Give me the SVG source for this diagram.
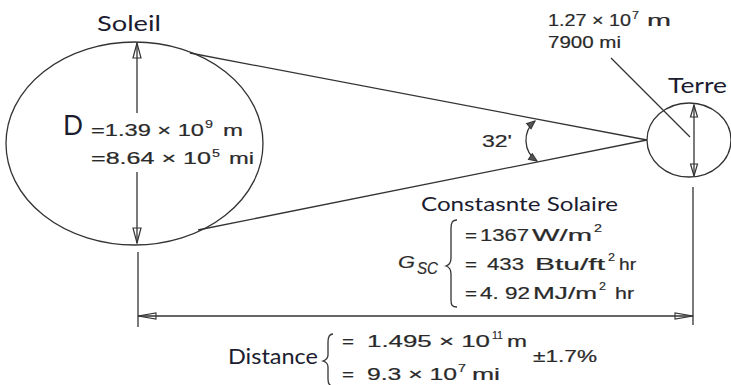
<svg xmlns="http://www.w3.org/2000/svg" width="731" height="385" viewBox="0 0 731 385">
<style>
.ln{fill:none;stroke:#333;stroke-width:1.3}
.t{font-family:"Liberation Sans",Arial,sans-serif;font-size:16px;fill:#2a2a2a;stroke:#2a2a2a;stroke-width:0.2}
.s{font-family:"Liberation Sans",Arial,sans-serif;font-size:11px;fill:#2a2a2a;stroke:#2a2a2a;stroke-width:0.15}
.i{font-style:italic}
.lbl{font-family:Lato,"Open Sans",sans-serif;fill:#1c1c30}
</style>
<defs>
<marker id="ah" viewBox="-17 -6 18 12" refX="0" refY="0" markerWidth="18" markerHeight="12" orient="auto-start-reverse" markerUnits="userSpaceOnUse">
<path d="M0,0 L-15,-4 L-15,4 Z" fill="none" stroke="#333" stroke-width="1.2"/>
</marker>
<marker id="ahs" viewBox="-14 -5 15 10" refX="0" refY="0" markerWidth="15" markerHeight="10" orient="auto-start-reverse" markerUnits="userSpaceOnUse">
<path d="M0,0 L-12,-3.5 L-12,3.5 Z" fill="none" stroke="#333" stroke-width="1.2"/>
</marker>
<marker id="ahd" viewBox="-20 -5 21 10" refX="0" refY="0" markerWidth="21" markerHeight="10" orient="auto-start-reverse" markerUnits="userSpaceOnUse">
<path d="M0,0 L-18,-3 L-18,3 Z" fill="none" stroke="#333" stroke-width="1.1"/>
</marker>
<marker id="aha" viewBox="-10 -5 11 10" refX="0" refY="0" markerWidth="11" markerHeight="10" orient="auto-start-reverse" markerUnits="userSpaceOnUse">
<path d="M0,0 L-8,-3.5 L-8,3.5 Z" fill="#555" stroke="#333" stroke-width="1"/>
</marker>
</defs>
<rect width="731" height="385" fill="#fff"/>

<g id="connectors">
<line class="ln" x1="190" y1="53" x2="647" y2="140"/>
<line class="ln" x1="198" y1="230" x2="647" y2="140"/>
<line class="ln" x1="138" y1="252" x2="138" y2="327"/>
<line class="ln" x1="693" y1="187" x2="693" y2="325"/>
<line class="ln" x1="138" y1="316" x2="693" y2="316" marker-start="url(#ahd)" marker-end="url(#ahd)"/>
</g>

<g id="sun">
<ellipse class="ln" cx="134.5" cy="143.5" rx="128.5" ry="101.5"/>
<text class="lbl" x="97" y="31" font-size="22" textLength="64" lengthAdjust="spacingAndGlyphs">Soleil</text>
<line class="ln" x1="137" y1="113" x2="137" y2="43" marker-end="url(#ah)"/>
<line class="ln" x1="137" y1="172" x2="137" y2="243" marker-end="url(#ah)"/>
<text class="lbl" x="63" y="135" font-size="27" textLength="20" lengthAdjust="spacingAndGlyphs">D</text>
<text class="t" x="91" y="136" textLength="113" lengthAdjust="spacingAndGlyphs">=1.39 × 10</text>
<text class="s" x="205" y="128" textLength="8" lengthAdjust="spacingAndGlyphs">9</text>
<text class="t" x="223" y="136" textLength="20" lengthAdjust="spacingAndGlyphs">m</text>
<text class="t" x="91" y="164" textLength="120" lengthAdjust="spacingAndGlyphs">=8.64 × 10</text>
<text class="s" x="212" y="157" textLength="8" lengthAdjust="spacingAndGlyphs">5</text>
<text class="t" x="229" y="164" textLength="25" lengthAdjust="spacingAndGlyphs">mi</text>
</g>

<g id="earth">
<ellipse class="ln" cx="689" cy="140" rx="42" ry="37"/>
<text class="lbl" x="668" y="93" font-size="22" textLength="59" lengthAdjust="spacingAndGlyphs">Terre</text>
<line class="ln" x1="694" y1="140" x2="694" y2="105" marker-end="url(#ahs)"/>
<line class="ln" x1="694" y1="140" x2="694" y2="176" marker-end="url(#ahs)"/>
<line class="ln" x1="611" y1="58" x2="690" y2="137"/>
<text class="t" x="548" y="26" textLength="83" lengthAdjust="spacingAndGlyphs">1.27 × 10</text>
<text class="s" x="632" y="19" textLength="7" lengthAdjust="spacingAndGlyphs">7</text>
<text class="t" x="647" y="26" textLength="24" lengthAdjust="spacingAndGlyphs">m</text>
<text class="t" x="548" y="48" textLength="73" lengthAdjust="spacingAndGlyphs">7900 mi</text>
</g>

<g id="angle">
<path class="ln" d="M535,121 A25,25 0 0 0 537,161" marker-start="url(#aha)" marker-end="url(#aha)"/>
<text class="t" x="482" y="147" textLength="30" lengthAdjust="spacingAndGlyphs">32'</text>
</g>

<g id="solar-constant">
<text class="lbl" x="421" y="211" font-size="19" textLength="197" lengthAdjust="spacingAndGlyphs">Constasnte Solaire</text>
<text class="t i" x="398" y="268" font-size="20" textLength="17" lengthAdjust="spacingAndGlyphs">G</text>
<text class="t i" x="417" y="274" font-size="14" textLength="21" lengthAdjust="spacingAndGlyphs">SC</text>
<path class="ln" d="M457,220 C452,220 451,223 451,229 L451,258 C451,263 449,265 446,266 C449,267 451,269 451,274 L451,300 C451,305 452,307 457,307"/>
<text class="t" x="465" y="241" font-size="17" textLength="12" lengthAdjust="spacingAndGlyphs">=</text>
<text class="t" x="480" y="241" font-size="17" textLength="49" lengthAdjust="spacingAndGlyphs">1367</text>
<text class="t" x="532" y="241" font-size="17" textLength="60" lengthAdjust="spacingAndGlyphs">W/m</text>
<text class="s" x="594" y="232" textLength="8" lengthAdjust="spacingAndGlyphs">2</text>
<text class="t" x="465" y="270" font-size="17" textLength="12" lengthAdjust="spacingAndGlyphs">=</text>
<text class="t" x="487" y="270" font-size="17" textLength="37" lengthAdjust="spacingAndGlyphs">433</text>
<text class="t" x="535" y="270" font-size="17" textLength="70" lengthAdjust="spacingAndGlyphs">Btu/ft</text>
<text class="s" x="608" y="261" textLength="7" lengthAdjust="spacingAndGlyphs">2</text>
<text class="t" x="619" y="270" font-size="17" textLength="17" lengthAdjust="spacingAndGlyphs">hr</text>
<text class="t" x="465" y="299" font-size="17" textLength="12" lengthAdjust="spacingAndGlyphs">=</text>
<text class="t" x="480" y="299" font-size="17" textLength="50" lengthAdjust="spacingAndGlyphs">4. 92</text>
<text class="t" x="533" y="299" font-size="17" textLength="64" lengthAdjust="spacingAndGlyphs">MJ/m</text>
<text class="s" x="599" y="290" textLength="7" lengthAdjust="spacingAndGlyphs">2</text>
<text class="t" x="615" y="299" font-size="17" textLength="19" lengthAdjust="spacingAndGlyphs">hr</text>
</g>

<g id="distance">
<text class="lbl" x="228" y="364" font-size="21" textLength="90" lengthAdjust="spacingAndGlyphs">Distance</text>
<path class="ln" d="M333,334 C329,334 328,337 328,342 L328,355 C328,358 326,360 323,361 C326,362 328,364 328,367 L328,379 C328,383 329,386 333,386"/>
<text class="t" x="342" y="347" textLength="12" lengthAdjust="spacingAndGlyphs">=</text>
<text class="t" x="367" y="347" textLength="123" lengthAdjust="spacingAndGlyphs">1.495 × 10</text>
<text class="s" x="492" y="339" textLength="11" lengthAdjust="spacingAndGlyphs">11</text>
<text class="t" x="507" y="347" textLength="20" lengthAdjust="spacingAndGlyphs">m</text>
<text class="t" x="342" y="380" textLength="12" lengthAdjust="spacingAndGlyphs">=</text>
<text class="t" x="367" y="380" textLength="90" lengthAdjust="spacingAndGlyphs">9.3 × 10</text>
<text class="s" x="458" y="372" textLength="8" lengthAdjust="spacingAndGlyphs">7</text>
<text class="t" x="472" y="380" textLength="28" lengthAdjust="spacingAndGlyphs">mi</text>
<text class="t" x="533" y="362" textLength="64" lengthAdjust="spacingAndGlyphs">±1.7%</text>
</g>
</svg>
